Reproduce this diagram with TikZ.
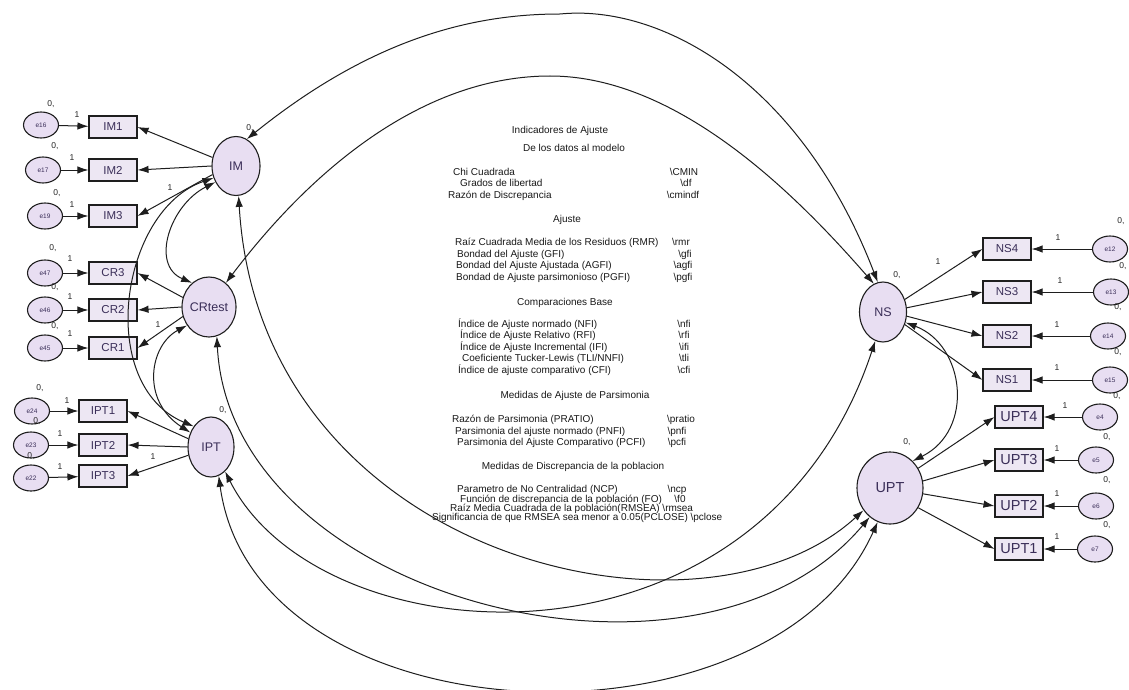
\documentclass[tikz,border=0pt]{standalone}
\usepackage{fontspec}
\setmainfont{Liberation Sans}
\usetikzlibrary{shapes.geometric,arrows.meta}
\definecolor{latfill}{RGB}{232,222,242}
\definecolor{obsfill}{RGB}{237,231,243}
\definecolor{lbl}{RGB}{58,46,88}
\definecolor{edge}{RGB}{30,30,30}
\tikzset{
  latent/.style={ellipse,draw=edge,fill=latfill,line width=1.1pt,inner sep=0pt,text=lbl,font=\fontsize{12.5}{12.5}\selectfont},
  obs/.style={rectangle,draw=edge,fill=obsfill,line width=1.1pt,minimum width=48pt,minimum height=22pt,inner sep=0pt,text=lbl,font=\fontsize{11.5}{11.5}\selectfont},
  obsbig/.style={obs,font=\fontsize{14.5}{14.5}\selectfont},
  err/.style={ellipse,draw=edge,fill=latfill,line width=1.1pt,minimum width=35pt,minimum height=26pt,inner sep=0pt,text=lbl,font=\fontsize{6.5}{6.5}\selectfont},
  arr/.style={draw=edge,line width=1pt,-{Latex[length=11pt,width=7.5pt]}},
  cov/.style={draw=edge,line width=1pt,{Latex[length=11pt,width=7.5pt]}-{Latex[length=11pt,width=7.5pt]}},
  num/.style={inner sep=0pt,text=black!85,font=\fontsize{8.5}{8.5}\selectfont},
  fitline/.style={inner sep=0pt,text=black!90,font=\fontsize{10}{11}\selectfont,text height=7.5pt,text depth=2pt},
}
\begin{document}
\begin{tikzpicture}[x=1pt,y=-1pt]
\useasboundingbox (0,0) rectangle (1129,690);
\clip (0,0) rectangle (1129,690);
\fill[white] (0,0) rectangle (1129,690);

% latent factors
\node[latent,minimum width=48pt,minimum height=59pt] (IM) at (236,166) {IM};
\node[latent,minimum width=44pt,minimum height=60pt] (CRtest) at (209,307) {CRtest};
\node[latent,minimum width=46pt,minimum height=60pt] (IPT) at (211,447) {IPT};
\node[latent,minimum width=47pt,minimum height=60pt] (NS) at (883,312) {NS};
\node[latent,minimum width=66pt,minimum height=72pt,font=\fontsize{14.5}{14.5}\selectfont] (UPT) at (890,488) {UPT};

% indicators, left block
\node[obs] (IM1) at (113,127) {IM1};
\node[obs] (IM2) at (113,170) {IM2};
\node[obs] (IM3) at (113,216) {IM3};
\node[obs] (CR3) at (113,273) {CR3};
\node[obs] (CR2) at (113,310) {CR2};
\node[obs] (CR1) at (113,348) {CR1};
\node[obs] (IPT1) at (103,411) {IPT1};
\node[obs] (IPT2) at (103,445) {IPT2};
\node[obs] (IPT3) at (103,476) {IPT3};

% indicators, right block
\node[obs] (NS4) at (1007,249) {NS4};
\node[obs] (NS3) at (1007,292) {NS3};
\node[obs] (NS2) at (1007,336) {NS2};
\node[obs] (NS1) at (1007,380) {NS1};
\node[obsbig] (UPT4) at (1019,417) {UPT4};
\node[obsbig] (UPT3) at (1019,460) {UPT3};
\node[obsbig] (UPT2) at (1019,506) {UPT2};
\node[obsbig] (UPT1) at (1019,549) {UPT1};

% error terms
\node[err] (e16) at (41,125) {e16};
\node[err] (e17) at (43,170) {e17};
\node[err] (e19) at (45,216) {e19};
\node[err] (e47) at (45,273) {e47};
\node[err] (e46) at (45,310) {e46};
\node[err] (e45) at (45,348) {e45};
\node[err] (e24) at (32,411) {e24};
\node[err] (e23) at (31,445) {e23};
\node[err] (e22) at (31,478) {e22};
\node[err] (e12) at (1110,249) {e12};
\node[err] (e13) at (1111,292) {e13};
\node[err] (e14) at (1108,336) {e14};
\node[err] (e15) at (1110,380) {e15};
\node[err] (e4) at (1100,417) {e4};
\node[err] (e5) at (1096,460) {e5};
\node[err] (e6) at (1096,506) {e6};
\node[err] (e7) at (1095,549) {e7};

% error -> indicator
\draw[arr] (e16) -- (IM1);
\draw[arr] (e17) -- (IM2);
\draw[arr] (e19) -- (IM3);
\draw[arr] (e47) -- (CR3);
\draw[arr] (e46) -- (CR2);
\draw[arr] (e45) -- (CR1);
\draw[arr] (e24) -- (IPT1);
\draw[arr] (e23) -- (IPT2);
\draw[arr] (e22) -- (IPT3);
\draw[arr] (e12) -- (NS4);
\draw[arr] (e13) -- (NS3);
\draw[arr] (e14) -- (NS2);
\draw[arr] (e15) -- (NS1);
\draw[arr] (e4) -- (UPT4);
\draw[arr] (e5) -- (UPT3);
\draw[arr] (e6) -- (UPT2);
\draw[arr] (e7) -- (UPT1);

% factor -> indicator
\draw[arr] (IM.160) -- (IM1.east);
\draw[arr] (IM.180) -- (IM2.east);
\draw[arr] (IM.200) -- (IM3.east);
\draw[arr] (CRtest.160) -- (CR3.east);
\draw[arr] (CRtest.180) -- (CR2.east);
\draw[arr] (CRtest.200) -- (CR1.east);
\draw[arr] (IPT.160) -- (IPT1.east);
\draw[arr] (IPT.180) -- (IPT2.east);
\draw[arr] (IPT.200) -- (IPT3.east);
\draw[arr] (NS.30) -- (NS4.west);
\draw[arr] (NS.10) -- (NS3.west);
\draw[arr] (NS.-10) -- (NS2.west);
\draw[arr] (NS.-30) -- (NS1.west);
\draw[arr] (UPT.35) -- (UPT4.west);
\draw[arr] (UPT.12) -- (UPT3.west);
\draw[arr] (UPT.-10) -- (UPT2.west);
\draw[arr] (UPT.-35) -- (UPT1.west);

% covariances between factors
\draw[cov] (IM.68) .. controls (370,40) and (470,14) .. (560,14)
                   .. controls (660,4) and (800,80) .. (NS.100);
\draw[cov] (CRtest.55) .. controls (319,160) and (430,76) .. (550,76)
                       .. controls (680,76) and (800,199) .. (NS.108);
\draw[cov] (IM.218) .. controls (170,205) and (150,265) .. (CRtest.125);
\draw[cov] (IM.208) .. controls (120,210) and (95,385) .. (IPT.130);
\draw[cov] (CRtest.220) .. controls (150,345) and (140,400) .. (IPT.145);
\draw[cov] (NS.-25) .. controls (965,345) and (975,430) .. (UPT.50);
\draw[cov] (IM.275) .. controls (260,560) and (700,660) .. (UPT.220);
\draw[cov] (CRtest.285) .. controls (230,600) and (700,720) .. (UPT.235);
\draw[cov] (IPT.285) .. controls (255,742) and (770,762) .. (UPT.250);
\draw[cov] (IPT.300) .. controls (320,660) and (760,690) .. (NS.255);

% variance and weight labels, left
\node[num] (v16) at (51,104) {0,};
\node[num] (w16) at (77,115) {1};
\node[num] (v17) at (55,146) {0,};
\node[num] (w17) at (72,158) {1};
\node[num] (v19) at (57,193) {0,};
\node[num] (w19) at (72,205) {1};
\node[num] (v47) at (53,248) {0,};
\node[num] (w47) at (70,259) {1};
\node[num] (v46) at (55,287) {0,};
\node[num] (w46) at (70,297) {1};
\node[num] (v45) at (55,326) {0,};
\node[num] (w45) at (70,334) {1};
\node[num] (v24) at (40,388) {0,};
\node[num] (w24) at (67,401) {1};
\node[num] (v23) at (37,421) {0,};
\node[num] (w23) at (60,434) {1};
\node[num] (v22) at (31,456) {0,};
\node[num] (w22) at (60,467) {1};
\node[num] (vIM) at (250,128) {0,};
\node[num] (vIPT) at (223,410) {0,};
\node[num] (wIM3) at (170,188) {1};
\node[num] (wCR1) at (158,325) {1};
\node[num] (wIPT3) at (153,457) {1};

% variance and weight labels, right
\node[num] (vNS) at (897,275) {0,};
\node[num] (wNS4) at (938,262) {1};
\node[num] (vUPT) at (907,442) {0,};
\node[num] (v12) at (1121,221) {0,};
\node[num] (w12) at (1058,238) {1};
\node[num] (v13) at (1123,266) {0,};
\node[num] (w13) at (1060,281) {1};
\node[num] (v14) at (1118,307) {0,};
\node[num] (w14) at (1057,325) {1};
\node[num] (v15) at (1118,352) {0,};
\node[num] (w15) at (1057,368) {1};
\node[num] (v4) at (1117,396) {0,};
\node[num] (w4) at (1065,406) {1};
\node[num] (v5) at (1107,437) {0,};
\node[num] (w5) at (1057,449) {1};
\node[num] (v6) at (1107,480) {0,};
\node[num] (w6) at (1057,494) {1};
\node[num] (v7) at (1107,525) {0,};
\node[num] (w7) at (1057,537) {1};

% fit indices text
\node[fitline] (h1) at (560,131) {Indicadores de Ajuste};
\node[fitline] (h2) at (574,149) {De los datos al modelo};
\node[fitline,anchor=west] (a1) at (453,173) {Chi Cuadrada};
\node[fitline] (b1) at (684,173) {\textbackslash CMIN};
\node[fitline,anchor=west] (a2) at (460,184) {Grados de libertad};
\node[fitline] (b2) at (686,184) {\textbackslash df};
\node[fitline,anchor=west] (a3) at (448,196) {Razón de Discrepancia};
\node[fitline] (b3) at (683,196) {\textbackslash cmindf};
\node[fitline] (h3) at (567,220) {Ajuste};
\node[fitline,anchor=west] (a4) at (455,243) {Raíz Cuadrada Media de los Residuos (RMR)};
\node[fitline] (b4) at (681,243) {\textbackslash rmr};
\node[fitline,anchor=west] (a5) at (457,255) {Bondad del Ajuste (GFI)};
\node[fitline] (b5) at (685,255) {\textbackslash gfi};
\node[fitline,anchor=west] (a6) at (456,266) {Bondad del Ajuste Ajustada (AGFI)};
\node[fitline] (b6) at (683,266) {\textbackslash agfi};
\node[fitline,anchor=west] (a7) at (456,278) {Bondad de Ajuste parsimonioso (PGFI)};
\node[fitline] (b7) at (683,278) {\textbackslash pgfi};
\node[fitline] (h4) at (565,303) {Comparaciones Base};
\node[fitline,anchor=west] (a8) at (458,325) {Índice de Ajuste normado (NFI)};
\node[fitline] (b8) at (684,325) {\textbackslash nfi};
\node[fitline,anchor=west] (a9) at (460,336) {Índice de Ajuste Relativo (RFI)};
\node[fitline] (b9) at (684,336) {\textbackslash rfi};
\node[fitline,anchor=west] (a10) at (460,348) {Índice de Ajuste Incremental (IFI)};
\node[fitline] (b10) at (684,348) {\textbackslash ifi};
\node[fitline,anchor=west] (a11) at (462,359) {Coeficiente Tucker-Lewis (TLI/NNFI)};
\node[fitline] (b11) at (684,359) {\textbackslash tli};
\node[fitline,anchor=west] (a12) at (458,371) {Índice de ajuste comparativo (CFI)};
\node[fitline] (b12) at (684,371) {\textbackslash cfi};
\node[fitline] (h5) at (575,396) {Medidas de Ajuste de Parsimonia};
\node[fitline,anchor=west] (a13) at (452,420) {Razón de Parsimonia (PRATIO)};
\node[fitline] (b13) at (681,420) {\textbackslash pratio};
\node[fitline,anchor=west] (a14) at (455,432) {Parsimonia del ajuste normado (PNFI)};
\node[fitline] (b14) at (677,432) {\textbackslash pnfi};
\node[fitline,anchor=west] (a15) at (457,443) {Parsimonia del Ajuste Comparativo (PCFI)};
\node[fitline] (b15) at (677,443) {\textbackslash pcfi};
\node[fitline] (h6) at (573,467) {Medidas de Discrepancia de la poblacion};
\node[fitline,anchor=west] (a16) at (457,490) {Parametro de No Centralidad (NCP)};
\node[fitline] (b16) at (677,490) {\textbackslash ncp};
\node[fitline,anchor=west] (a17) at (460,500) {Función de discrepancia de la población (FO)};
\node[fitline] (b17) at (680,500) {\textbackslash f0};
\node[fitline,anchor=west] (a18) at (450,509) {Raíz Media Cuadrada de la población(RMSEA) \textbackslash rmsea};
\node[fitline,anchor=west] (a19) at (432,518) {Significancia de que RMSEA sea menor a 0.05(PCLOSE) \textbackslash pclose};
\end{tikzpicture}
\end{document}
